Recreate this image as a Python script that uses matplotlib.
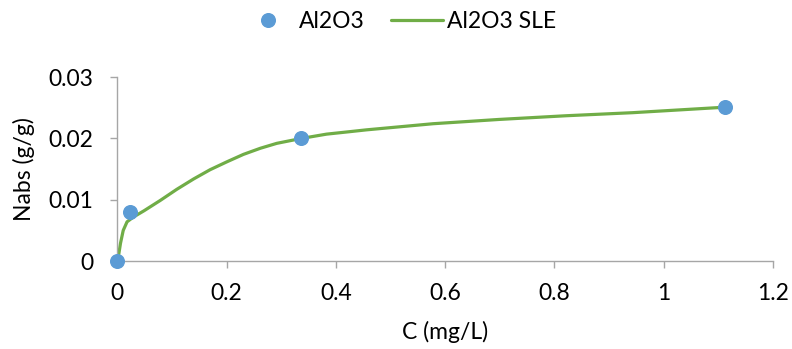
import numpy as np
import matplotlib
matplotlib.use('Agg')
import matplotlib.pyplot as plt

plt.rcParams['font.family'] = ['Lato', 'DejaVu Sans']

# measured points
c_meas = [0.0, 0.0225, 0.337, 1.113]
n_meas = [0.0, 0.0080, 0.0200, 0.0251]

# SLE curve
c_sle = [0.0, 0.003, 0.006, 0.011, 0.018, 0.030, 0.049, 0.079, 0.109, 0.140,
         0.170, 0.201, 0.231, 0.262, 0.292, 0.337, 0.383, 0.425, 0.456, 0.578,
         0.699, 0.821, 0.943, 1.113]
n_sle = [0.0, 0.0012, 0.0029, 0.0050, 0.0064, 0.0072, 0.0082, 0.0099, 0.0117, 0.0134,
         0.0149, 0.0162, 0.0174, 0.0184, 0.0192, 0.0200, 0.0207, 0.0211, 0.0214, 0.0224,
         0.0231, 0.0237, 0.0242, 0.0251]

fs = 16.5

fig = plt.figure(figsize=(7.92, 3.49), dpi=100)
ax = fig.add_axes([0.148, 0.252, 0.828, 0.527])

ax.plot(c_sle, n_sle, color='#70AD47', lw=2.3, label='Al2O3 SLE', zorder=2,
        solid_capstyle='round', solid_joinstyle='round', clip_on=False)
ax.plot(c_meas, n_meas, 'o', color='#5B9BD5', ms=9.8, label='Al2O3', zorder=3,
        clip_on=False)

ax.set_xlim(0, 1.2)
ax.set_ylim(0, 0.03)
ax.set_xticks([0, 0.2, 0.4, 0.6, 0.8, 1.0, 1.2])
ax.set_xticklabels(['0', '0.2', '0.4', '0.6', '0.8', '1', '1.2'])
ax.set_yticks([0, 0.01, 0.02, 0.03])
ax.set_yticklabels(['0', '0.01', '0.02', '0.03'])

for s in ['top', 'right']:
    ax.spines[s].set_visible(False)
for s in ['left', 'bottom']:
    ax.spines[s].set_color('#A6A6A6')
    ax.spines[s].set_linewidth(1.0)
ax.tick_params(axis='both', colors='#A6A6A6', labelcolor='black', labelsize=fs,
               length=5, width=1.0)
ax.tick_params(axis='x', pad=11)
ax.tick_params(axis='y', pad=12)

ax.set_xlabel('C (mg/L)', fontsize=fs, labelpad=12)
ax.set_ylabel('Nabs (g/g)', fontsize=fs, labelpad=10)

h, l = ax.get_legend_handles_labels()
fig.legend(h[::-1], l[::-1], loc='center', bbox_to_anchor=(0.504, 0.937), ncol=2,
           frameon=False, fontsize=fs, handlelength=2.3, columnspacing=1.15,
           handletextpad=0.17)

fig.savefig('out.png', dpi=100)
